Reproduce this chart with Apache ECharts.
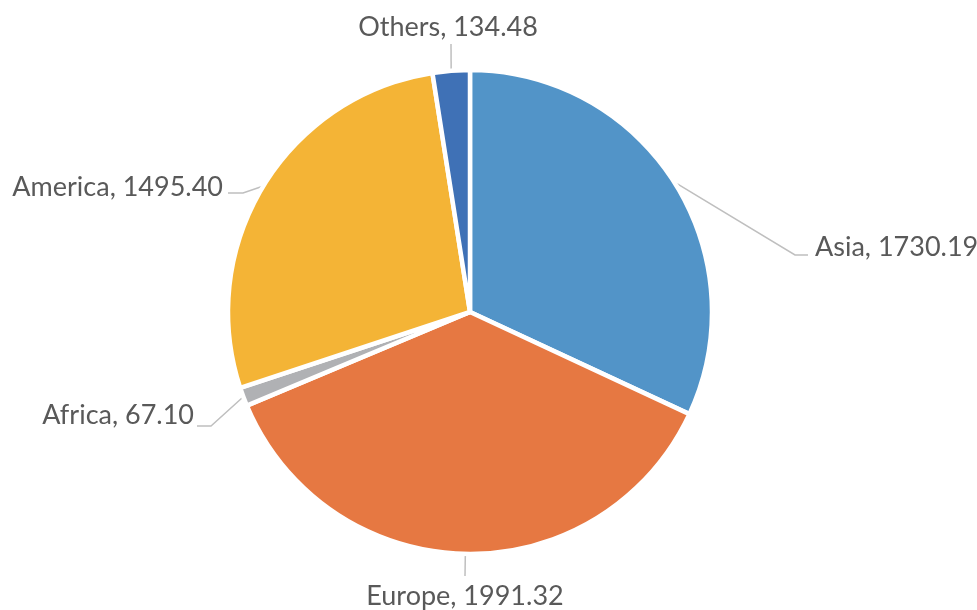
<!DOCTYPE html>
<html>
<head>
<meta charset="utf-8">
<script src="https://cdn.jsdelivr.net/npm/echarts@6/dist/echarts.min.js"></script>
<style>
  html, body { margin: 0; padding: 0; background: #fff; }
  #chart { width: 977px; height: 610px; }
</style>
</head>
<body>
<div id="chart"></div>
<script>
const regions = ["Asia", "Europe", "Africa", "America", "Others"];
const values = [1730.19, 1991.32, 67.10, 1495.40, 134.48];
const colors = ["#5294C8", "#E67842", "#B0B1B4", "#F4B436", "#3F71B6"];

// label anchor and leader line bends, in page pixels
const labelSpots = [
  { x: 815, y: 247, align: "left", bend: [[795, 255], [808, 255]] },
  { x: 465, y: 596, align: "center", bend: [[465, 576]] },
  { x: 194, y: 415, align: "right", bend: [[211, 426], [197, 426]] },
  { x: 223, y: 187, align: "right", bend: [[243, 193], [228, 193]] },
  { x: 448, y: 27, align: "center", bend: [[451, 44]] },
];

const chart = echarts.init(document.getElementById("chart"));
chart.setOption({
  animation: false,
  color: colors,
  series: [
    {
      type: "pie",
      center: [470, 312],
      radius: [0, 242],
      startAngle: 90,
      clockwise: true,
      data: regions.map((name, i) => ({ name: name, value: values[i] })),
      itemStyle: { borderColor: "#fff", borderWidth: 4.5 },
      label: {
        show: true,
        formatter: (p) => p.name + ", " + p.value.toFixed(2),
        fontFamily: "Lato",
        fontSize: 27,
        color: "#595959",
      },
      labelLine: {
        show: true,
        length: 20,
        length2: 10,
        lineStyle: { color: "#BFBFBF", width: 1.5 },
      },
      labelLayout: (params) => {
        const spot = labelSpots[params.dataIndex];
        const start = params.labelLinePoints ? params.labelLinePoints[0] : spot.bend[0];
        return {
          x: spot.x,
          y: spot.y,
          align: spot.align,
          verticalAlign: "middle",
          labelLinePoints: [start].concat(spot.bend),
        };
      },
    },
  ],
});
</script>
</body>
</html>
